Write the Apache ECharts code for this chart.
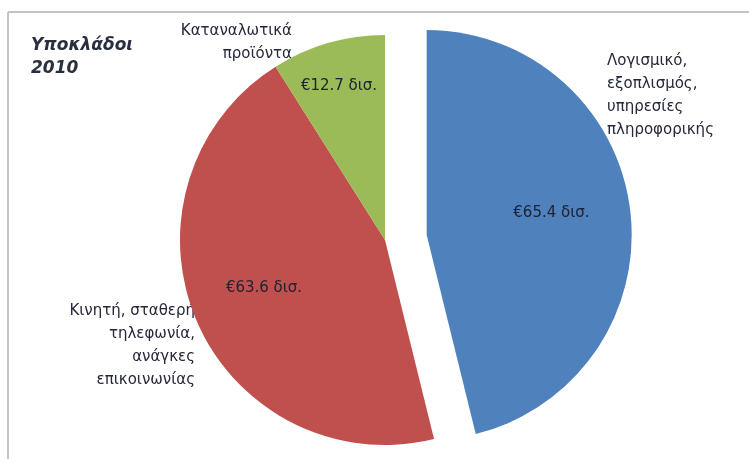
<!DOCTYPE html>
<html>
<head>
<meta charset="utf-8">
<script src="https://cdn.jsdelivr.net/npm/echarts@6/dist/echarts.min.js"></script>
<style>
  html, body { margin: 0; padding: 0; background: #fff; overflow: hidden; }
  #chart { width: 750px; height: 459px; }
</style>
</head>
<body>
<div id="chart"></div>
<script>
const titleText = 'Υποκλάδοι\n2010';
const categories = [
  'Λογισμικό,\nεξοπλισμός,\nυπηρεσίες\nπληροφορικής',
  'Κινητή, σταθερή\nτηλεφωνία,\nανάγκες\nεπικοινωνίας',
  'Καταναλωτικά\nπροϊόντα'
];
const values = [65.4, 63.6, 12.7];
const colors = ['#4F81BD', '#C0504D', '#9BBB59'];
const explodedIndex = 0;

// label placement (style only)
const valueLabelPos = [[548, 213], [264, 288], [339, 86]];
const explodedLabelShift = [20, -9];
const nameLabelPos = [
  { x: 607, y: 50, align: 'left' },
  { x: 195, y: 300, align: 'right' },
  { x: 292, y: 20, align: 'right' }
];

const chart = echarts.init(document.getElementById('chart'));

const pieData = values.map((v, i) => ({
  name: categories[i],
  value: v,
  selected: i === explodedIndex,
  itemStyle: { color: colors[i] }
}));

const ghostData = values.map((v, i) => ({
  name: categories[i],
  value: v,
  itemStyle: { color: 'rgba(0,0,0,0)' }
}));

chart.setOption({
  backgroundColor: '#ffffff',
  animation: false,
  title: {
    text: titleText,
    left: 26,
    top: 29,
    textStyle: {
      fontFamily: 'DejaVu Sans',
      fontSize: 17,
      fontStyle: 'italic',
      fontWeight: 'bold',
      color: '#2a2f3f',
      lineHeight: 23
    }
  },
  graphic: [
    { type: 'line', shape: { x1: 8, y1: 12, x2: 749, y2: 12 }, style: { stroke: '#c4c4c4', lineWidth: 2 }, silent: true },
    { type: 'line', shape: { x1: 8, y1: 12, x2: 8, y2: 459 }, style: { stroke: '#c4c4c4', lineWidth: 2 }, silent: true }
  ],
  series: [
    {
      type: 'pie',
      center: [385, 240],
      radius: 205,
      startAngle: 90,
      clockwise: true,
      selectedMode: 'single',
      selectedOffset: 42,
      avoidLabelOverlap: false,
      itemStyle: { borderWidth: 0 },
      label: {
        show: true,
        position: 'inside',
        formatter: p => '€' + p.value.toFixed(1) + ' δισ.',
        fontFamily: 'DejaVu Sans',
        fontSize: 15,
        color: '#202233'
      },
      labelLayout: p => {
        if (p.dataIndex === explodedIndex) {
          return { dx: explodedLabelShift[0], dy: explodedLabelShift[1] };
        }
        return {
          x: valueLabelPos[p.dataIndex][0],
          y: valueLabelPos[p.dataIndex][1],
          align: 'center',
          verticalAlign: 'middle'
        };
      },
      emphasis: { disabled: true },
      data: pieData
    },
    {
      type: 'pie',
      center: [385, 240],
      radius: 205,
      startAngle: 90,
      clockwise: true,
      silent: true,
      avoidLabelOverlap: false,
      z: 1,
      label: {
        show: true,
        position: 'outside',
        formatter: '{b}',
        fontFamily: 'DejaVu Sans',
        fontSize: 15,
        lineHeight: 23,
        color: '#242838'
      },
      labelLine: { show: false },
      labelLayout: p => ({
        x: nameLabelPos[p.dataIndex].x,
        y: nameLabelPos[p.dataIndex].y,
        align: nameLabelPos[p.dataIndex].align,
        verticalAlign: 'top'
      }),
      emphasis: { disabled: true },
      data: ghostData
    }
  ]
});
</script>
</body>
</html>
